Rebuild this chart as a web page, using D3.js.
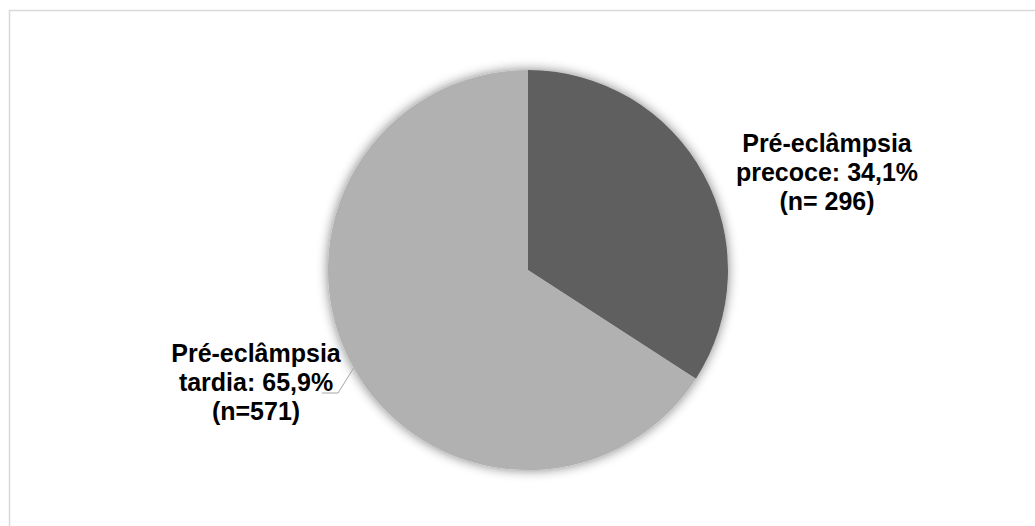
<!DOCTYPE html>
<html>
<head>
<meta charset="utf-8">
<script src="https://cdnjs.cloudflare.com/ajax/libs/d3/7.8.5/d3.min.js"></script>
<style>
	body { margin: 0; background: #fff; }
	#vis_container { width: 1035px; height: 526px; }
	text { font-family: "Liberation Sans", Arial, sans-serif; font-weight: bold; }
</style>
</head>
<body>
<div id="vis_container"></div>
<script>
	var categories = ["Pré-eclâmpsia precoce", "Pré-eclâmpsia tardia"];
	var counts = [296, 571];
	var percents = ["34,1%", "65,9%"];
	var labelLines = [
		["Pré-eclâmpsia", "precoce: " + percents[0], "(n= " + counts[0] + ")"],
		["Pré-eclâmpsia", "tardia: " + percents[1], "(n=" + counts[1] + ")"]
	];
	var colors = ["#5f5f5f", "#b1b1b1"];

	var pieChart = {};
	pieChart.width = 1035;
	pieChart.height = 526;
	pieChart.cx = 528;
	pieChart.cy = 270;
	pieChart.radius = 200;

	pieChart.svg = d3.select("#vis_container").append("svg")
		.attr("width", pieChart.width)
		.attr("height", pieChart.height);

	// chart area border (runs off the right and bottom edge)
	pieChart.svg.append("rect")
		.attr("x", 9.5)
		.attr("y", 10.5)
		.attr("width", 1040)
		.attr("height", 540)
		.attr("fill", "none")
		.attr("stroke", "#d9d9d9")
		.attr("stroke-width", 1.5);

	// soft shadow round the pie
	var shadow = pieChart.svg.append("defs").append("filter")
		.attr("id", "softShadow")
		.attr("x", "-20%").attr("y", "-20%")
		.attr("width", "140%").attr("height", "140%");
	shadow.append("feGaussianBlur")
		.attr("in", "SourceAlpha")
		.attr("stdDeviation", 6)
		.attr("result", "blur");
	shadow.append("feComponentTransfer")
		.attr("in", "blur")
		.attr("result", "fade")
		.append("feFuncA")
			.attr("type", "linear")
			.attr("slope", 0.5);
	var merge = shadow.append("feMerge");
	merge.append("feMergeNode").attr("in", "fade");
	merge.append("feMergeNode").attr("in", "SourceGraphic");

	pieChart.g = pieChart.svg.append("g")
		.attr("transform", "translate(" + pieChart.cx + "," + pieChart.cy + ")");

	pieChart.pie = d3.pie()
		.sort(null)
		.value(function(d) { return d; });

	pieChart.arc = d3.arc()
		.innerRadius(0)
		.outerRadius(pieChart.radius);

	pieChart.arcs = pieChart.pie(counts);

	pieChart.g.append("g")
		.attr("filter", "url(#softShadow)")
		.selectAll("path")
		.data(pieChart.arcs)
		.enter()
		.append("path")
			.attr("d", pieChart.arc)
			.attr("fill", function(d, i) { return colors[i]; })
			.append("title")
				.text(function(d, i) { return categories[i]; });

	// label positions (relative to pie centre)
	var labelPos = [
		{ x: 299, y: -118 },
		{ x: -272, y: 92 }
	];
	var lineHeight = 29;

	pieChart.labels = pieChart.g.selectAll(".sliceLabel")
		.data(pieChart.arcs)
		.enter()
		.append("text")
			.attr("class", "sliceLabel")
			.attr("text-anchor", "middle")
			.attr("font-size", 25)
			.attr("fill", "#000");

	pieChart.labels.each(function(d, i) {
		var t = d3.select(this);
		labelLines[i].forEach(function(line, j) {
			t.append("tspan")
				.attr("x", labelPos[i].x)
				.attr("y", labelPos[i].y + j * lineHeight)
				.text(line);
		});
	});

	// leader line from the left label to the pie edge
	var angLeader = 4.2;
	var edge = [pieChart.radius * Math.sin(angLeader), -pieChart.radius * Math.cos(angLeader)];
	pieChart.g.append("polyline")
		.attr("points", [[-206, 123], [-190, 123], edge].map(function(p) { return p.join(","); }).join(" "))
		.attr("fill", "none")
		.attr("stroke", "#a6a6a6")
		.attr("stroke-width", 1);
</script>
</body>
</html>
